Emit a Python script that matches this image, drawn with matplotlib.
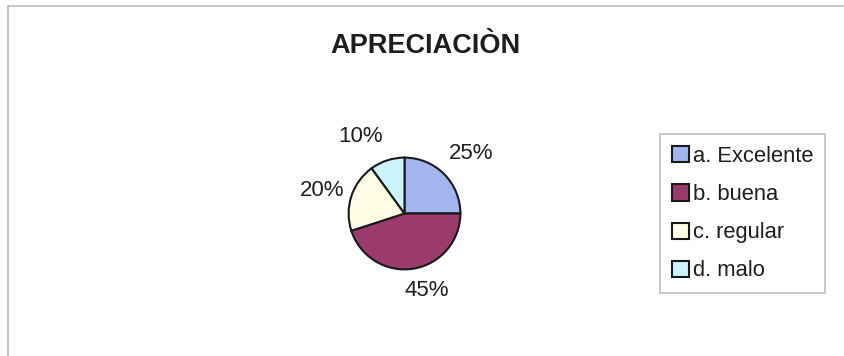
import matplotlib.pyplot as plt
from matplotlib.lines import Line2D

plt.rcParams['font.family'] = ['Liberation Sans', 'DejaVu Sans']

# datos de la encuesta
categorias = ['a. Excelente', 'b. buena', 'c. regular', 'd. malo']
porcentajes = [25, 45, 20, 10]
colores = ['#a4b4ee', '#9b3a6c', '#fdfde6', '#cef4fb']

# posicion de cada porcentaje, en radios desde el centro
pos_etiquetas = [(1.20, 1.08), (0.39, -1.38), (-1.48, 0.41), (-0.78, 1.38)]

W, H = 844, 356
fig = plt.figure(figsize=(W / 100, H / 100), dpi=100)

# marco del grafico
fig.add_artist(Line2D([8 / W, 8 / W], [0, 1 - 6 / H], color='#bdbdbd', lw=1.2))
fig.add_artist(Line2D([8 / W, 1], [1 - 6 / H, 1 - 6 / H], color='#bdbdbd', lw=1.2))

fig.text(425 / W, 1 - 46 / H, 'APRECIACIÒN', ha='center', va='center',
         fontsize=19.5, fontweight='bold', color='#1e1e1e')

# pastel centrado en (404, 213) px con radio 57 px
cx, cy, r = 404.5, 213.5, 57
ax = fig.add_axes([(cx - r) / W, 1 - (cy + r) / H, 2 * r / W, 2 * r / H])
wedges, texts, autotexts = ax.pie(
    porcentajes, colors=colores, startangle=90, counterclock=False,
    autopct='%1.0f%%', pctdistance=1.5,
    wedgeprops=dict(edgecolor='#1a1a1a', linewidth=1.5),
    textprops=dict(fontsize=16, color='#1e1e1e'))
for t, p in zip(autotexts, pos_etiquetas):
    t.set_position(p)
ax.set_aspect('equal')
ax.set_xlim(-1.02, 1.02)
ax.set_ylim(-1.02, 1.02)

leg = fig.legend(wedges, categorias, loc='upper left',
                 bbox_to_anchor=(660 / W, 1 - 134 / H), borderaxespad=0,
                 fontsize=15.8, frameon=True, fancybox=False,
                 handlelength=0.75, handleheight=0.75, handletextpad=0.2,
                 labelspacing=0.78, borderpad=0.55)
leg.get_frame().set_edgecolor('#b0b0b0')
leg.get_frame().set_linewidth(1.2)
for t in leg.get_texts():
    t.set_color('#1e1e1e')

fig.savefig('out.png', dpi=100)
